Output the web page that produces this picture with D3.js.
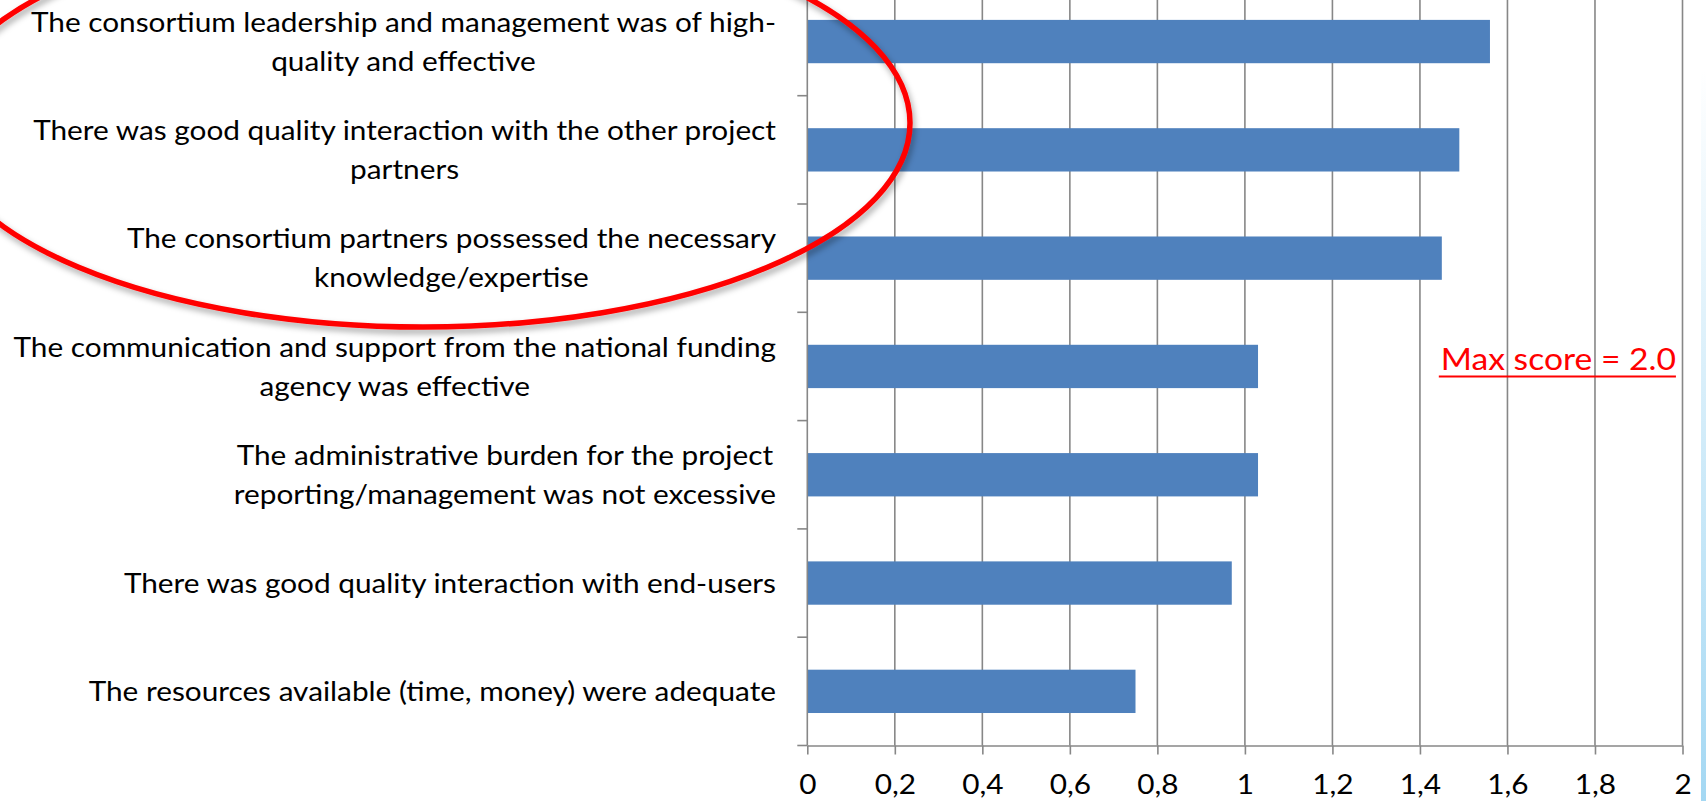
<!DOCTYPE html>
<html>
<head>
<meta charset="utf-8">
<script src="https://cdn.jsdelivr.net/npm/d3@7"></script>
<style>
  html, body { margin: 0; padding: 0; background: #fff; }
  svg { display: block; }
</style>
</head>
<body>
<div id="chart"></div>
<script>
// survey statements, top to bottom, already wrapped the way the slide shows them
const statements = [
  ["The consortium leadership and management was of high-", "quality and effective"],
  ["There was good quality interaction with the other project", "partners"],
  ["The consortium partners possessed the necessary", "knowledge/expertise"],
  ["The communication and support from the national funding", "agency was effective"],
  ["The administrative burden for the project", "reporting/management was not excessive"],
  ["There was good quality interaction with end-users"],
  ["The resources available (time, money) were adequate"]
];
const scores = [1.56, 1.49, 1.45, 1.03, 1.03, 0.97, 0.75];

const xTickValues = [0, 0.2, 0.4, 0.6, 0.8, 1, 1.2, 1.4, 1.6, 1.8, 2];
const xTickLabels = ["0", "0,2", "0,4", "0,6", "0,8", "1", "1,2", "1,4", "1,6", "1,8", "2"];

const maxNote = "Max score = 2.0";

const layout = {
  width: 1706,
  height: 801,
  plotLeft: 807.3,
  plotRight: 1682.5,
  plotTop: -12.6,      // the slide crops the top of the plot area
  plotBottom: 745.5,
  labelRight: 776,
  fontSize: 27,
  lineGap: 38.8,
  tickLen: 9
};

const font = "Lato, 'Open Sans', sans-serif";
const gridColor = "#878787";
const barColor = "#4f81bd";

let svg = d3.select("#chart").append("svg")
  .attr("width", layout.width)
  .attr("height", layout.height)
  .attr("viewBox", [0, 0, layout.width, layout.height].join(" "));

let defs = svg.append("defs");

// light blue slide edge at the right
let edgeGrad = defs.append("linearGradient")
  .attr("id", "edge-grad")
  .attr("x1", 0).attr("y1", 0).attr("x2", 0).attr("y2", 1);
edgeGrad.append("stop").attr("offset", "0%").attr("stop-color", "#ffffff");
edgeGrad.append("stop").attr("offset", "100%").attr("stop-color", "#a4d8f3");

let shadow = defs.append("filter")
  .attr("id", "ring-shadow")
  .attr("x", "-10%").attr("y", "-10%").attr("width", "120%").attr("height", "130%");
shadow.append("feDropShadow")
  .attr("dx", 2).attr("dy", 4)
  .attr("stdDeviation", 3)
  .attr("flood-color", "#000")
  .attr("flood-opacity", 0.35);

svg.append("rect")
  .attr("x", 1701).attr("y", 70)
  .attr("width", 5).attr("height", layout.height - 70)
  .attr("fill", "url(#edge-grad)");

// SCALES
let xScale = d3.scaleLinear()
  .domain([0, 2])
  .range([layout.plotLeft, layout.plotRight]);

let yScale = d3.scaleBand()
  .domain(d3.range(statements.length))
  .range([layout.plotTop, layout.plotBottom])
  .paddingInner(0.6)
  .paddingOuter(0.3);

// vertical gridlines
svg.append("g")
  .selectAll("line")
  .data(xTickValues.filter(d => d > 0))
  .join("line")
  .attr("x1", d => xScale(d))
  .attr("x2", d => xScale(d))
  .attr("y1", layout.plotTop)
  .attr("y2", layout.plotBottom)
  .attr("stroke", gridColor)
  .attr("stroke-width", 1.6);

// bars
svg.append("g")
  .selectAll("rect")
  .data(scores)
  .join("rect")
  .attr("x", xScale(0))
  .attr("y", (d, i) => yScale(i))
  .attr("width", d => xScale(d) - xScale(0))
  .attr("height", yScale.bandwidth())
  .attr("fill", barColor);

// x axis
let xAxis = svg.append("g")
  .attr("transform", `translate(0,${layout.plotBottom})`)
  .call(d3.axisBottom(xScale)
    .tickValues(xTickValues)
    .tickFormat((d, i) => xTickLabels[i])
    .tickSize(layout.tickLen)
    .tickSizeOuter(0));
xAxis.selectAll("line, .domain").attr("stroke", gridColor).attr("stroke-width", 1.6);
xAxis.selectAll("text")
  .attr("y", 48)
  .attr("dy", 0)
  .attr("fill", "#000")
  .attr("font-family", font)
  .attr("font-size", layout.fontSize);

// y axis line plus ticks between categories
let step = yScale.step();
let boundaries = d3.range(statements.length + 1).map(k => yScale(0) - step * yScale.paddingOuter() + k * step);
let yAxis = svg.append("g");
yAxis.append("line")
  .attr("x1", xScale(0)).attr("x2", xScale(0))
  .attr("y1", layout.plotTop).attr("y2", layout.plotBottom)
  .attr("stroke", gridColor).attr("stroke-width", 1.6);
yAxis.selectAll(".ytick")
  .data(boundaries)
  .join("line")
  .attr("class", "ytick")
  .attr("x1", xScale(0) - layout.tickLen - 1).attr("x2", xScale(0))
  .attr("y1", d => d).attr("y2", d => d)
  .attr("stroke", gridColor).attr("stroke-width", 1.6);

// category labels: lines centred on each other, block right aligned
let labelGroup = svg.append("g")
  .attr("font-family", font)
  .attr("font-size", layout.fontSize)
  .attr("fill", "#000");

// measure the first line to find how much to squeeze the font to the slide's width
let probe = labelGroup.append("text").text(statements[0][0]);
let squeeze = 745 / probe.node().getComputedTextLength();
probe.remove();

statements.forEach((lines, i) => {
  let cy = yScale(i) + yScale.bandwidth() / 2;
  let texts = lines.map((line, j) => {
    let t = labelGroup.append("text")
      .attr("text-anchor", "middle")
      .attr("y", cy + (j - (lines.length - 1) / 2) * layout.lineGap + 9.7)
      .text(line);
    let w = t.node().getComputedTextLength() * squeeze;
    t.attr("textLength", w).attr("lengthAdjust", "spacingAndGlyphs");
    return { t, w };
  });
  let blockW = d3.max(texts, d => d.w);
  texts.forEach(d => d.t.attr("x", layout.labelRight - blockW / 2));
});

// squeeze tick labels the same way
xAxis.selectAll("text").each(function() {
  let w = this.getComputedTextLength() * squeeze;
  d3.select(this).attr("textLength", w).attr("lengthAdjust", "spacingAndGlyphs");
});

// max score note
let noteY = yScale(3) + yScale.bandwidth() / 2 + 4;
let note = svg.append("text")
  .attr("font-family", font)
  .attr("font-size", 30.5)
  .attr("fill", "#ff0000")
  .attr("text-anchor", "end")
  .attr("x", xScale(1.985))
  .attr("y", noteY)
  .text(maxNote);
let noteW = note.node().getComputedTextLength() * squeeze;
note.attr("textLength", noteW).attr("lengthAdjust", "spacingAndGlyphs");
svg.append("line")
  .attr("x1", xScale(1.985) - noteW - 2).attr("x2", xScale(1.985))
  .attr("y1", noteY + 6).attr("y2", noteY + 6)
  .attr("stroke", "#ff0000")
  .attr("stroke-width", 2);

// red ring round the first three statements
svg.append("ellipse")
  .attr("cx", 423)
  .attr("cy", 123)
  .attr("rx", 487)
  .attr("ry", 204)
  .attr("fill", "none")
  .attr("stroke", "#ff0000")
  .attr("stroke-width", 5.5)
  .attr("filter", "url(#ring-shadow)");
</script>
</body>
</html>
